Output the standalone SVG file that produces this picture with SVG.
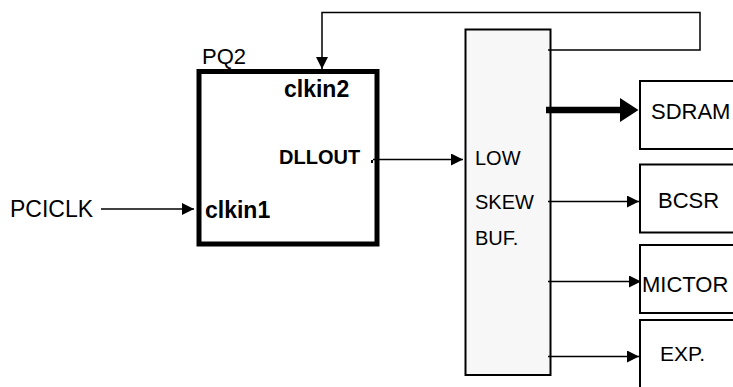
<svg xmlns="http://www.w3.org/2000/svg" width="733" height="387" viewBox="0 0 733 387">
<style>
.t{font-family:"Liberation Sans",Arial,sans-serif;fill:#000}
.b{font-weight:bold}
.ln{stroke:#000;stroke-width:1.5;fill:none}
.bx{stroke:#000;stroke-width:2;fill:#fff}
</style>
<defs>
<marker id="ah" markerUnits="userSpaceOnUse" markerWidth="12" markerHeight="12" refX="12" refY="6" orient="auto" viewBox="0 0 12 12">
<path d="M0,0 L12,6 L0,12 Z" fill="#000"/>
</marker>
</defs>
<g id="pq2">
<rect x="199" y="71.5" width="178" height="172.5" fill="#fff" stroke="#000" stroke-width="5"/>
<text class="t" x="202" y="64" font-size="22">PQ2</text>
<text class="t b" x="284" y="96.5" font-size="23">clkin2</text>
<text class="t b" x="279" y="163.5" font-size="20">DLLOUT</text>
<text class="t b" x="205" y="217.5" font-size="23">clkin1</text>
</g>
<g id="buffer">
<rect x="465.5" y="29.5" width="85" height="345.5" fill="#f7f7f7" stroke="#000" stroke-width="2"/>
<text class="t" x="475" y="165" font-size="20">LOW</text>
<text class="t" x="475" y="208.5" font-size="20">SKEW</text>
<text class="t" x="475" y="245" font-size="20">BUF.</text>
</g>
<g id="sdram">
<rect class="bx" x="640" y="81" width="120" height="68"/>
<text class="t" x="651" y="118.5" font-size="22">SDRAM</text>
</g>
<g id="bcsr">
<rect class="bx" x="640" y="164.5" width="120" height="68"/>
<text class="t" x="658" y="207.5" font-size="22">BCSR</text>
</g>
<g id="mictor">
<rect class="bx" x="640" y="245" width="120" height="68"/>
<text class="t" x="642" y="291.5" font-size="22">MICTOR</text>
</g>
<g id="exp">
<rect class="bx" x="640" y="320" width="120" height="90"/>
<text class="t" x="660" y="360.5" font-size="21">EXP.</text>
</g>
<g id="pciclk">
<text class="t" x="10" y="217" font-size="23">PCICLK</text>
</g>
<g id="connectors">
<line class="ln" x1="101" y1="209" x2="194" y2="209" marker-end="url(#ah)"/>
<polyline class="ln" points="548,50 700,50 700,12.5 322,12.5 322,69" marker-end="url(#ah)"/>
<line class="ln" x1="373" y1="159.5" x2="463" y2="159.5" marker-end="url(#ah)"/>
<rect x="371" y="160" width="2" height="3" fill="#000"/>
<line x1="546" y1="110" x2="624" y2="110" stroke="#000" stroke-width="6.5"/>
<path d="M620,98 L638.5,110 L620,122 Z" fill="#000"/>
<line class="ln" x1="548" y1="201.5" x2="639" y2="201.5" marker-end="url(#ah)"/>
<line class="ln" x1="548" y1="281.5" x2="641" y2="281.5" marker-end="url(#ah)"/>
<line class="ln" x1="548" y1="356.5" x2="639" y2="356.5" marker-end="url(#ah)"/>
</g>
</svg>
